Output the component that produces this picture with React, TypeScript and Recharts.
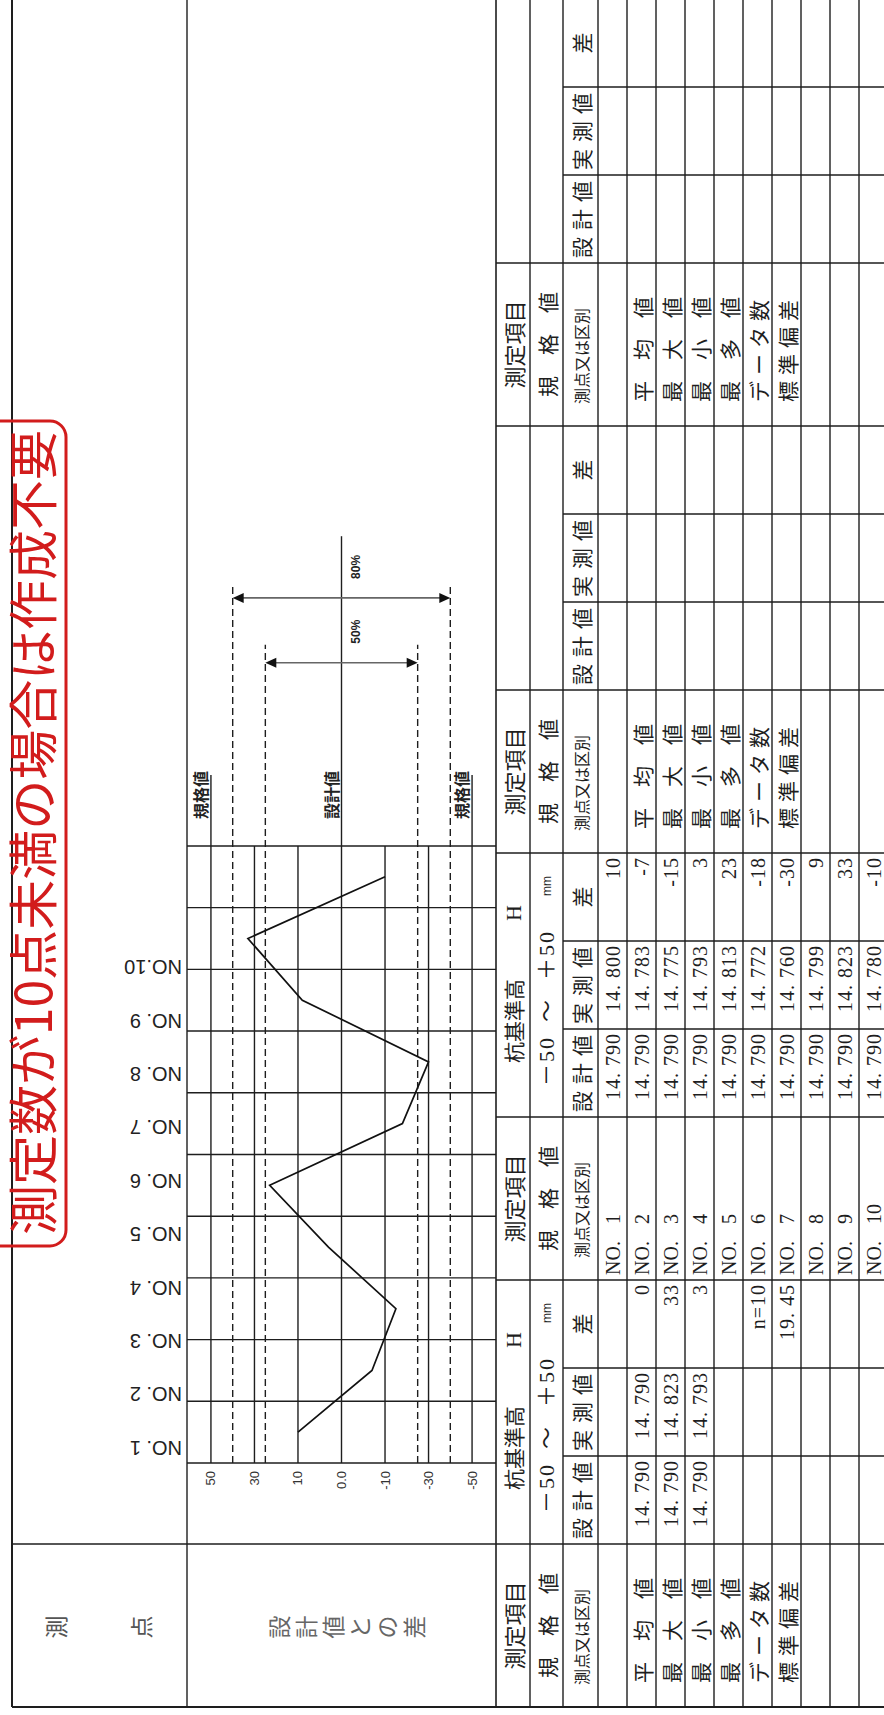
import React from 'react';
import { LineChart, Line, XAxis, YAxis, ReferenceLine } from 'recharts';

// --- values ---
const POINT_LABELS = ['NO. 1', 'NO. 2', 'NO. 3', 'NO. 4', 'NO. 5', 'NO. 6', 'NO. 7', 'NO. 8', 'NO. 9', 'NO.10'];
const POINT_NUMBERS = ['1', '2', '3', '4', '5', '6', '7', '8', '9', '10'];
const DESIGN = [14.79, 14.79, 14.79, 14.79, 14.79, 14.79, 14.79, 14.79, 14.79, 14.79];
const MEASURED = [14.8, 14.783, 14.775, 14.793, 14.813, 14.772, 14.76, 14.799, 14.823, 14.78];
const DIFFS = [10, -7, -15, 3, 23, -18, -30, 9, 33, -10];

const VALUE_TICKS = [-50, -30, -10, 0, 10, 30, 50];
const VALUE_TICK_LABELS = ['-50', '-30', '-10', '0.0', '10', '30', '50'];
const SPEC_LIMIT = 50;
const BANDS = [
  { label: '80%', value: 40 },
  { label: '50%', value: 25 },
];

const STAT_LABELS = ['平　均　値', '最　大　値', '最　小　値', '最　多　値', 'データ数', '標準偏差'];
const STAT_DESIGN = ['14.790', '14.790', '14.790', '', '', ''];
const STAT_MEASURED = ['14.790', '14.823', '14.793', '', '', ''];
const STAT_DIFF = ['0', '33', '3', '', 'n=10', '19.45'];

const HEADER_LABELS = ['測定項目', '規　格　値', '測点又は区別'];
const SUB_HEADERS = ['設計値', '実測値', '差'];
const ITEM = '杭基準高';
const ITEM_SYMBOL = 'H';
const SPEC_TEXT = ['－50', '～', '＋50', 'mm'];
const NOTE = '測定数が10点未満の場合は作成不要';
const SIDE_TOP = ['測', '点'];
const SIDE_CHART = '設計値との差';

// --- styles ---
const SERIF = '"Liberation Serif", "Noto Sans CJK JP", serif';
const SANS = '"Noto Sans CJK JP", "Liberation Sans", sans-serif';
const ARIAL = '"Liberation Sans", Arial, sans-serif';
const INK = '#1e1e1e';
const RED = '#d21c1c';

// sheet layout (sheet is drawn landscape, then turned)
const SHEET_W = 1715;
const SHEET_H = 884;
const ROW_Y = [496, 530, 563, 598, 627, 656, 685, 714, 743, 772, 801, 830, 859, 888];
const PERIOD = 427;
const LABEL_W = 163;
const SUB_W = 88;

// the value axis is drawn with equal steps between the printed ticks
const toAxis = (v: number) => {
  const n = VALUE_TICKS.length;
  for (let i = 0; i < n - 1; i++) {
    const a = VALUE_TICKS[i];
    const b = VALUE_TICKS[i + 1];
    if (v <= b || i === n - 2) return i + (v - a) / (b - a);
  }
  return 0;
};

const fmt = (s: string) => s.replace('.', '. ');

const chartData = DIFFS.map((d, i) => ({ x: i + 0.5, y: toAxis(d), name: POINT_LABELS[i] }));

const cy = (r: number) => (ROW_Y[r] + ROW_Y[r + 1]) / 2;

function Txt(props: any) {
  const { x, y, size = 20, anchor = 'start', ls = 0, fill = INK, family = SERIF, weight = 400, children } = props;
  return (
    <text x={x} y={y} fontSize={size} textAnchor={anchor} letterSpacing={ls} fill={fill}
      fontFamily={family} fontWeight={weight} dominantBaseline="central">
      {children}
    </text>
  );
}

function Sheet() {
  const lines: React.ReactElement[] = [];
  const L = (x1: number, y1: number, x2: number, y2: number, w = 1.4) =>
    lines.push(<line key={'l' + lines.length} x1={x1} y1={y1} x2={x2} y2={y2} stroke={INK} strokeWidth={w} />);

  L(8, 12, SHEET_W, 12, 2);
  L(8, 12, 8, SHEET_H, 2);
  L(8, 187, SHEET_W, 187);
  L(8, 496, SHEET_W, 496, 1.6);
  ROW_Y.slice(1).forEach((y) => L(8, y, SHEET_W, y));
  L(171, 12, 171, SHEET_H);

  const texts: React.ReactElement[] = [];
  const add = (el: React.ReactElement) => texts.push(React.cloneElement(el, { key: 't' + texts.length }));

  for (let k = 0; k < 4; k++) {
    const lx = 8 + PERIOD * k;
    const dx = 171 + PERIOD * k;
    if (k > 0) {
      L(lx, 496, lx, SHEET_H);
      L(dx, 496, dx, SHEET_H);
    }
    L(dx + SUB_W, 563, dx + SUB_W, SHEET_H);
    L(dx + SUB_W * 2, 563, dx + SUB_W * 2, SHEET_H);

    // label column
    add(<Txt x={lx + LABEL_W / 2} y={cy(0)} size={22} anchor="middle" family={SANS}>{HEADER_LABELS[0]}</Txt>);
    add(<Txt x={lx + LABEL_W / 2} y={cy(1)} size={21} anchor="middle" family={SANS}>{HEADER_LABELS[1]}</Txt>);
    add(<Txt x={lx + 22} y={cy(2)} size={16} family={SANS}>{HEADER_LABELS[2]}</Txt>);
    if (k === 1) {
      POINT_NUMBERS.forEach((n, i) => {
        add(<Txt x={lx + 5} y={cy(3 + i)}>NO.</Txt>);
        add(<Txt x={lx + 56} y={cy(3 + i)}>{n}</Txt>);
      });
    } else {
      STAT_LABELS.forEach((s, i) => {
        add(<Txt x={lx + 24} y={cy(4 + i)} size={21} family={SANS} ls={s.length === 4 ? 6 : 0}>{s}</Txt>);
      });
    }

    // data block
    SUB_HEADERS.forEach((s, j) => {
      add(<Txt x={dx + SUB_W * j + SUB_W / 2 + (s.length > 1 ? 3 : 0)} y={cy(2)} size={21} anchor="middle" family={SANS} ls={s.length > 1 ? 7 : 0}>{s}</Txt>);
    });
    if (k < 2) {
      add(<Txt x={dx + 54} y={cy(0)} size={21} family={SANS}>{ITEM}</Txt>);
      add(<Txt x={dx + 204} y={cy(0)} size={22} anchor="middle">{ITEM_SYMBOL}</Txt>);
      add(<Txt x={dx + 31} y={cy(1)} size={22} ls={2}>{SPEC_TEXT[0]}</Txt>);
      add(<Txt x={dx + 106} y={cy(1)} size={22} anchor="middle">{SPEC_TEXT[1]}</Txt>);
      add(<Txt x={dx + 137} y={cy(1)} size={22} ls={2}>{SPEC_TEXT[2]}</Txt>);
      add(<Txt x={dx + 221} y={cy(1)} size={12} family={ARIAL}>{SPEC_TEXT[3]}</Txt>);
    }
    const right = (j: number) => dx + SUB_W * (j + 1) - 4;
    if (k === 0) {
      STAT_LABELS.forEach((_, i) => {
        const r = 4 + i;
        if (STAT_DESIGN[i]) add(<Txt x={right(0)} y={cy(r)} anchor="end" ls={1}>{fmt(STAT_DESIGN[i])}</Txt>);
        if (STAT_MEASURED[i]) add(<Txt x={right(1)} y={cy(r)} anchor="end" ls={1}>{fmt(STAT_MEASURED[i])}</Txt>);
        if (STAT_DIFF[i]) add(<Txt x={right(2)} y={cy(r)} anchor="end" ls={1}>{fmt(STAT_DIFF[i])}</Txt>);
      });
    }
    if (k === 1) {
      DIFFS.forEach((d, i) => {
        const r = 3 + i;
        add(<Txt x={right(0)} y={cy(r)} anchor="end" ls={1}>{fmt(DESIGN[i].toFixed(3))}</Txt>);
        add(<Txt x={right(1)} y={cy(r)} anchor="end" ls={1}>{fmt(MEASURED[i].toFixed(3))}</Txt>);
        add(<Txt x={right(2)} y={cy(r)} anchor="end" ls={1}>{String(d)}</Txt>);
      });
    }
  }

  // left heading cells of the chart part
  add(<Txt x={88} y={55} size={23} anchor="middle" family={SANS} fill="#555">{SIDE_TOP[0]}</Txt>);
  add(<Txt x={88} y={140} size={23} anchor="middle" family={SANS} fill="#555">{SIDE_TOP[1]}</Txt>);
  SIDE_CHART.split('').forEach((c, i) => {
    add(<Txt x={88} y={278 + i * 27} size={23} anchor="middle" family={SANS} fill="#666">{c}</Txt>);
  });

  return (
    <svg width={SHEET_W} height={SHEET_H} style={{ position: 'absolute', left: 0, top: 0 }}>
      <rect x={0} y={0} width={SHEET_W} height={SHEET_H} fill="#fff" />
      {lines}
      {texts}
      <rect x={469} y={-40} width={825} height={106} rx={16} fill="none" stroke={RED} strokeWidth={3} />
      <text x={480} y={52} fontSize={50} fill={RED} fontFamily={SANS} textLength={805} lengthAdjust="spacing">{NOTE}</text>
    </svg>
  );
}

const ValueTick = (p: any) => (
  <text x={p.x} y={p.y} textAnchor="end" dominantBaseline="central" fontSize={13} fontFamily={ARIAL} fill="#333">
    {VALUE_TICK_LABELS[p.payload.value]}
  </text>
);

// the printed point names sit on a slightly tighter pitch than the cells
const LABEL_START = 0.243;
const LABEL_STEP = 0.8655;
const labelTicks = POINT_LABELS.map((_, i) => LABEL_START + LABEL_STEP * i);

const PointTick = (p: any) => {
  const y = p.y + 3;
  const i = labelTicks.findIndex((t) => Math.abs(t - p.payload.value) < 1e-6);
  return (
    <text x={p.x} y={y} dy="0.36em" transform={`rotate(-90 ${p.x} ${y})`} textAnchor="start"
      fontSize={20} fontFamily={ARIAL} fill="#222">
      {POINT_LABELS[i < 0 ? p.index : i]}
    </text>
  );
};

const Arrow = (p: any) => {
  const top = Math.min(p.y1, p.y2);
  const bot = Math.max(p.y1, p.y2);
  const x = p.x1;
  return (
    <g>
      <line x1={x} y1={top + 9} x2={x} y2={bot - 9} stroke="#666" strokeWidth={1.6} />
      <polygon points={`${x},${top} ${x - 5},${top + 11} ${x + 5},${top + 11}`} fill="#111" />
      <polygon points={`${x},${bot} ${x - 5},${bot - 11} ${x + 5},${bot - 11}`} fill="#111" />
    </g>
  );
};

const NameLabel = (p: any) => (
  <text x={p.viewBox.x + p.viewBox.width + 4} y={p.viewBox.y - 11} textAnchor="end" dominantBaseline="central"
    fontSize={16} fontWeight={700} fontFamily={SANS} fill="#222">
    {p.text}
  </text>
);

const PctLabel = (p: any) => (
  <text x={p.viewBox.x + 31} y={p.viewBox.y + p.viewBox.height / 2 + 14} textAnchor="middle" dominantBaseline="central"
    fontSize={12} fontWeight={700} fontFamily={ARIAL} fill="#222">
    {p.text}
  </text>
);

// extents of the guide lines beyond the plotted cells, in cell units
const X_DOMAIN: [number, number] = [0, 23.71];
const SPEC_END = 11.15;
const ZERO_END = 15.02;
const BAND_END = [14.25, 13.26];
const ARROW_X = [14.02, 12.97];

function Chart() {
  const n = POINT_LABELS.length;
  const grid = { xAxisId: 'pts', stroke: INK, strokeWidth: 1.4 } as any;
  return (
    <LineChart width={SHEET_W - 171} height={496 - 12} data={chartData} margin={{ top: 0, right: 0, bottom: 0, left: 0 }}>
      <XAxis xAxisId="pts" dataKey="x" type="number" orientation="top" height={175} domain={X_DOMAIN} allowDataOverflow
        ticks={labelTicks} interval={0} axisLine={false} tickLine={false} tick={<PointTick />} />
      <YAxis type="number" width={81} domain={[-0.55, VALUE_TICKS.length - 0.45]} allowDataOverflow
        ticks={VALUE_TICKS.map((_, i) => i)} interval={0} axisLine={false} tickLine={false} tick={<ValueTick />} />

      {Array.from({ length: n + 1 }, (_, c) => (
        <ReferenceLine key={'v' + c} x={c} {...grid} />
      ))}
      {VALUE_TICKS.map((v) => {
        const y = toAxis(v);
        const named = v === 0 || Math.abs(v) === SPEC_LIMIT;
        const label = named ? <NameLabel text={v === 0 ? '設計値' : '規格値'} /> : undefined;
        return (
          <React.Fragment key={'h' + v}>
            <ReferenceLine segment={[{ x: 0, y }, { x: n, y }]} {...grid} />
            {named && <ReferenceLine segment={[{ x: n, y }, { x: SPEC_END, y }]} {...grid} label={label} />}
            {v === 0 && <ReferenceLine segment={[{ x: SPEC_END, y }, { x: ZERO_END, y }]} {...grid} />}
          </React.Fragment>
        );
      })}
      {BANDS.map((b, bi) => (
        <React.Fragment key={'b' + b.label}>
          {[b.value, -b.value].map((v) => (
            <ReferenceLine key={'d' + v} segment={[{ x: 0, y: toAxis(v) }, { x: BAND_END[bi], y: toAxis(v) }]}
              xAxisId="pts" stroke={INK} strokeWidth={1.4} strokeDasharray="7 4" />
          ))}
          <ReferenceLine segment={[{ x: ARROW_X[bi], y: toAxis(b.value) }, { x: ARROW_X[bi], y: toAxis(-b.value) }]}
            xAxisId="pts" shape={(p: any) => <Arrow {...p} />} label={<PctLabel text={b.label} />} />
        </React.Fragment>
      ))}

      <Line xAxisId="pts" dataKey="y" type="linear" stroke="#111" strokeWidth={1.7} dot={false} isAnimationActive={false} />
    </LineChart>
  );
}

export default function App() {
  return (
    <div style={{ position: 'absolute', left: 0, top: 0, width: SHEET_H, height: SHEET_W, overflow: 'hidden', background: '#fff' }}>
      <div style={{
        position: 'absolute', left: 0, top: 0, width: SHEET_W, height: SHEET_H,
        transformOrigin: '0 0', transform: `translateY(${SHEET_W}px) rotate(-90deg)`,
      }}>
        <Sheet />
        <div style={{ position: 'absolute', left: 171, top: 12 }}>
          <Chart />
        </div>
      </div>
    </div>
  );
}
